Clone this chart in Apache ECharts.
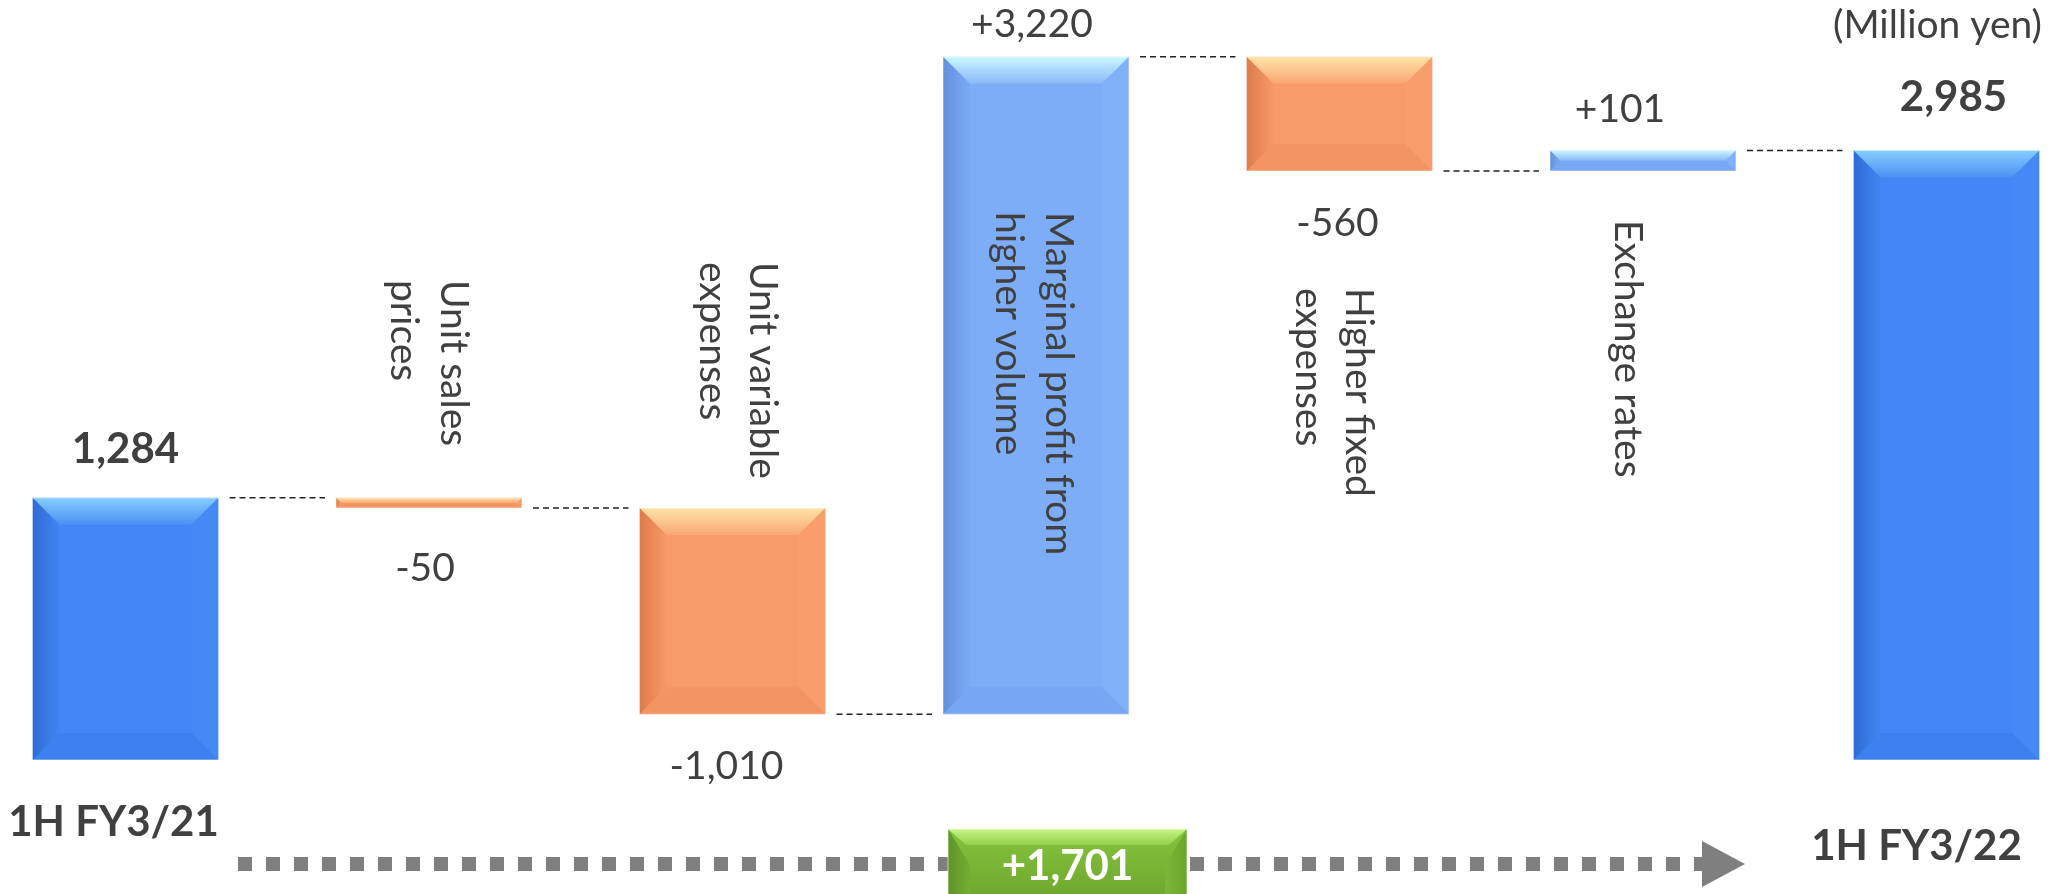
<!DOCTYPE html>
<html>
<head>
<meta charset="utf-8">
<script src="https://cdn.jsdelivr.net/npm/echarts@6/dist/echarts.min.js"></script>
<style>
html,body{margin:0;padding:0;background:#fff;}
#chart{width:2072px;height:894px;}
</style>
</head>
<body>
<div id="chart"></div>
<script>
// ---------------- DATA ----------------
const categories = ['1H FY3/21', 'Unit sales prices', 'Unit variable expenses',
  'Marginal profit from higher volume', 'Higher fixed expenses', 'Exchange rates', '1H FY3/22'];
const nameLabels = ['', 'Unit sales\nprices', 'Unit variable\nexpenses',
  'Marginal profit from\nhigher volume', 'Higher fixed\nexpenses', 'Exchange rates', ''];
const startTotal = 1284;
const changes = [-50, -1010, 3220, -560, 101];
const endTotal = 2985;
const netChange = 1701;
const unitLabel = '(Million yen)';

// ---------------- LAYOUT / STYLE ----------------
const FONT = 'Lato, "Open Sans", sans-serif';
const TEXT = '#404040';
const BAR_RATIO = 0.613;
const VALUE_GAP = [48, 60, 52, 32, 52, 41, 53];
const VALUE_DX = [0, -4, -6, -4, -2, -23, 7];
const NAME_TOP = [null, 280, 262, 212, 288, 220, null];
const NAME_DX = [0, 0, 5, -2, -6, -15, 0];
const CAT_LABEL_OFF = {0: [-12, 62], 6: [-30, 86]};
const PALETTE = [
  { base: '#4287F5', top: ['#86CEFF', '#4A90F3'], left: ['#306BD3', '#4085F2'], bottom: '#3C81EF', right: '#4589F6' }, // total
  { base: '#7DADF7', top: ['#CBF7FF', '#88B8F8'], left: ['#6390DC', '#7BAAF5'], bottom: '#77A7F2', right: '#80B0F8' }, // increase
  { base: '#F89B6B', top: ['#FFE3A8', '#F9A673'], left: ['#DD7C4A', '#F69868'], bottom: '#F39563', right: '#FA9D6C' }  // decrease
];

// ---------------- BUILD ----------------
const bars = [];
let run = startTotal;
bars.push([0, 0, startTotal, 0, startTotal]);
changes.forEach((c, k) => {
  const nr = run + c;
  bars.push([k + 1, Math.min(run, nr), Math.max(run, nr), c < 0 ? 2 : 1, c]);
  run = nr;
});
bars.push([categories.length - 1, 0, endTotal, 0, endTotal]);

const levels = [startTotal];
{ let r = startTotal; changes.forEach(c => { r += c; levels.push(r); }); }
const connectors = levels.map((lv, i) => [i, lv]);

function fmt(v, signed) {
  const s = Math.abs(v).toLocaleString('en-US');
  if (!signed) return s;
  return (v < 0 ? '-' : '+') + s;
}

function lg(x0, y0, x1, y1, c0, c1) {
  return new echarts.graphic.LinearGradient(x0, y0, x1, y1, [{offset: 0, color: c0}, {offset: 1, color: c1}]);
}

function bevelShapes(x0, y0, w, h, pal, depth) {
  const x1 = x0 + w, y1 = y0 + h;
  const d = Math.min(depth, h / 2, w / 2);
  return [
    { type: 'rect', shape: { x: x0, y: y0, width: w, height: h }, style: { fill: pal.base } },
    { type: 'polygon', shape: { points: [[x0, y0], [x1, y0], [x1 - d, y0 + d], [x0 + d, y0 + d]] },
      style: { fill: lg(0, 0, 0, 1, pal.top[0], pal.top[1]) } },
    { type: 'polygon', shape: { points: [[x0, y1], [x1, y1], [x1 - d, y1 - d], [x0 + d, y1 - d]] },
      style: { fill: pal.bottom } },
    { type: 'polygon', shape: { points: [[x0, y0], [x0 + d, y0 + d], [x0 + d, y1 - d], [x0, y1]] },
      style: { fill: lg(0, 0, 1, 0, pal.left[0], pal.left[1]) } },
    { type: 'polygon', shape: { points: [[x1, y0], [x1 - d, y0 + d], [x1 - d, y1 - d], [x1, y1]] },
      style: { fill: pal.right } },
    { type: 'rect', shape: { x: x0, y: y0, width: w, height: h },
      style: { fill: null, stroke: 'rgba(255,255,255,0.55)', lineWidth: 1 } }
  ];
}

function renderBar(params, api) {
  const i = api.value(0), low = api.value(1), high = api.value(2), kind = api.value(3), val = api.value(4);
  const pTop = api.coord([i, high]);
  const pBot = api.coord([i, low]);
  const band = api.coord([1, 0])[0] - api.coord([0, 0])[0];
  const w = band * BAR_RATIO;
  const cx = pTop[0];
  const x0 = cx - w / 2, y0 = pTop[1], y1 = pBot[1];
  const children = bevelShapes(x0, y0, w, y1 - y0, PALETTE[kind], 27);

  const isTotal = kind === 0;
  const above = isTotal || val > 0;
  const ly = above ? y0 - VALUE_GAP[i] : y1 + VALUE_GAP[i];
  children.push({
    type: 'text', x: cx + VALUE_DX[i], y: ly, z2: 10,
    style: {
      text: isTotal ? fmt(val, false) : fmt(val, true),
      align: 'center', verticalAlign: 'middle',
      font: (isTotal ? 'bold 42px ' : '39px ') + FONT, fill: TEXT
    }
  });

  if (nameLabels[i]) {
    children.push({
      type: 'text', x: cx + NAME_DX[i], y: NAME_TOP[i], rotation: -Math.PI / 2, z2: 10,
      style: {
        text: nameLabels[i], align: 'left', verticalAlign: 'middle',
        font: '39px ' + FONT, fill: TEXT, lineHeight: 50
      }
    });
  }
  if (CAT_LABEL_OFF[i]) {
    const off = CAT_LABEL_OFF[i];
    children.push({
      type: 'text', x: cx + off[0], y: y1 + off[1], z2: 10,
      style: {
        text: categories[i], align: 'center', verticalAlign: 'middle',
        font: 'bold 42px ' + FONT, fill: TEXT
      }
    });
  }
  return { type: 'group', children };
}

function renderConnector(params, api) {
  const i = api.value(0), lv = api.value(1);
  const p = api.coord([i, lv]);
  const q = api.coord([i + 1, lv]);
  const band = q[0] - p[0];
  const hw = band * BAR_RATIO / 2;
  return {
    type: 'line',
    shape: { x1: p[0] + hw + 11, y1: p[1], x2: q[0] - hw - 11, y2: p[1] },
    style: { stroke: '#222', lineWidth: 1.5, lineDash: [6, 4] }
  };
}

const chart = echarts.init(document.getElementById('chart'), null, { renderer: 'canvas' });

// bottom annotation: net change arrow and box
const arrowY = 864;
const boxX = 948, boxY = 829, boxW = 239, boxH = 80;
const greenBox = [
  { type: 'rect', z: 10, shape: { x: boxX, y: boxY, width: boxW, height: boxH },
    style: { fill: lg(0, 0, 0, 1, '#86C43E', '#6AA22B') } },
  { type: 'polygon', z: 11, shape: { points: [[boxX, boxY], [boxX + boxW, boxY], [boxX + boxW - 18, boxY + 16], [boxX + 18, boxY + 16]] },
    style: { fill: lg(0, 0, 0, 1, '#C4F686', '#93CF4C') } },
  { type: 'polygon', z: 11, shape: { points: [[boxX, boxY], [boxX + 22, boxY + 36], [boxX + 22, boxY + boxH], [boxX, boxY + boxH]] },
    style: { fill: lg(0, 0, 1, 0, '#5E9426', '#74AE32') } },
  { type: 'polygon', z: 11, shape: { points: [[boxX + boxW, boxY], [boxX + boxW - 22, boxY + 36], [boxX + boxW - 22, boxY + boxH], [boxX + boxW, boxY + boxH]] },
    style: { fill: lg(0, 0, 1, 0, '#7BB737', '#6CA62C') } },
  { type: 'rect', z: 12, shape: { x: boxX, y: boxY, width: boxW, height: boxH },
    style: { fill: null, stroke: 'rgba(255,255,255,0.6)', lineWidth: 1 } }
];

chart.setOption({
  animation: false,
  backgroundColor: '#fff',
  grid: { left: 125.5, right: 125.5, top: 45.3, bottom: 134 },
  xAxis: {
    type: 'category', data: categories, boundaryGap: false,
    axisLine: { show: false }, axisTick: { show: false }, axisLabel: { show: false }, splitLine: { show: false }
  },
  yAxis: {
    type: 'value', min: 0, max: 3500, show: false, splitLine: { show: false }
  },
  series: [
    { type: 'custom', renderItem: renderConnector, data: connectors, z: 1, silent: true },
    { type: 'custom', renderItem: renderBar, data: bars, z: 2, silent: true }
  ],
  graphic: [
    { type: 'text', right: 30, top: 6, style: { text: unitLabel, font: '39px ' + FONT, fill: TEXT } },
    { type: 'line', z: 5, shape: { x1: 238, y1: arrowY, x2: 1702, y2: arrowY },
      style: { stroke: '#7F7F7F', lineWidth: 14, lineDash: [14, 14], lineCap: 'butt' } },
    { type: 'polygon', z: 5, shape: { points: [[1702, arrowY - 23], [1745, arrowY], [1702, arrowY + 23]] },
      style: { fill: '#7F7F7F' } }
  ].concat(greenBox).concat([
    { type: 'text', z: 20, x: boxX + boxW / 2, y: arrowY + 2,
      style: { text: fmt(netChange, true), align: 'center', verticalAlign: 'middle', font: 'bold 42px ' + FONT, fill: '#fff' } }
  ])
});
</script>
</body>
</html>
